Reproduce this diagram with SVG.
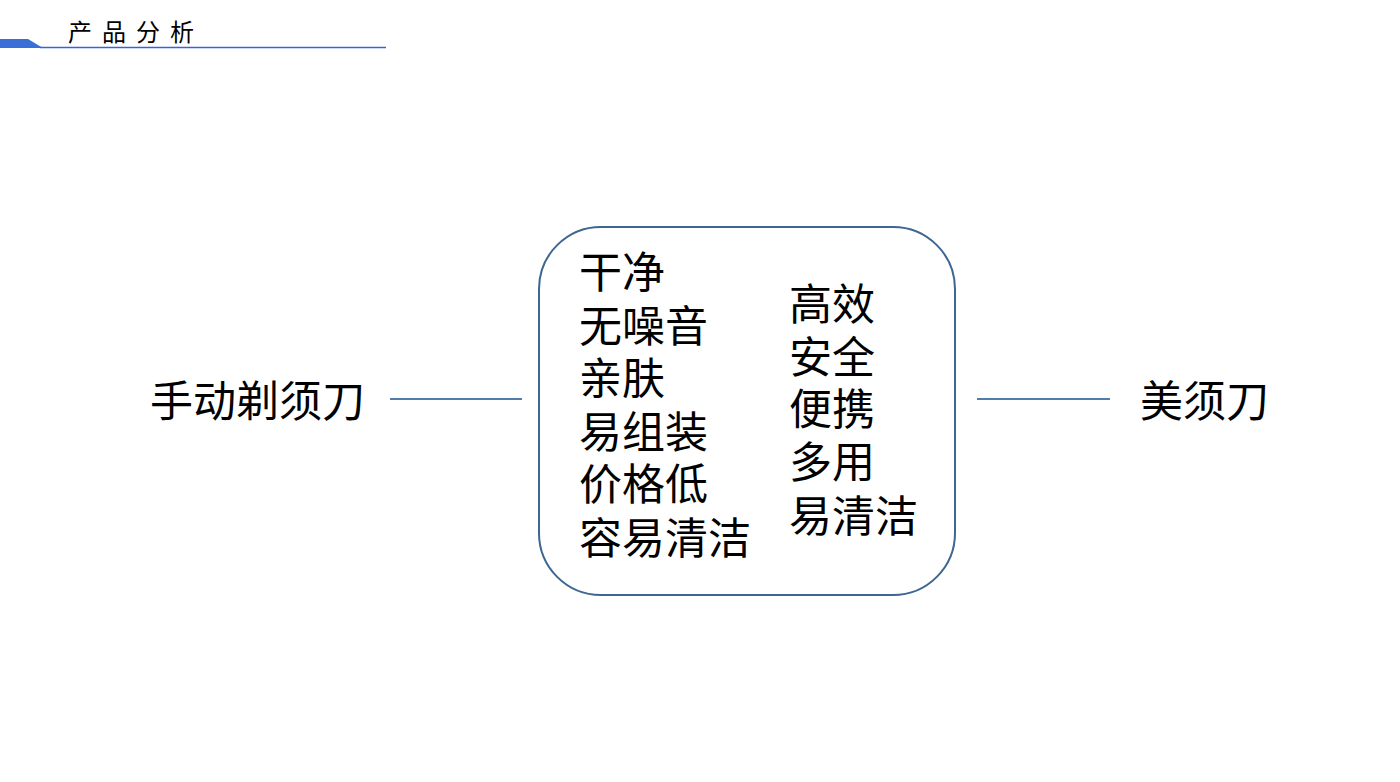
<svg xmlns="http://www.w3.org/2000/svg" width="1400" height="782" viewBox="0 0 1400 782">
<style>
text{font-family:"Noto Sans CJK SC","Noto Sans CJK JP",sans-serif;fill:#000;}
.big{font-size:43px;dominant-baseline:central;}
.conn{stroke:#4f7fa8;stroke-width:1.8;fill:none;}
</style>
<rect width="1400" height="782" fill="#fff"/>
<g id="header">
<polygon points="0,39 28,39 43,48 0,48" fill="#3b6fd8"/>
<line x1="40" y1="47.5" x2="386" y2="47.5" stroke="#3b5fe0" stroke-width="1.6"/>
<text x="68" y="41" font-size="24" letter-spacing="10">产品分析</text>
</g>
<g id="connectors">
<line class="conn" x1="390" y1="399" x2="522" y2="399"/>
<line class="conn" x1="977" y1="399" x2="1110" y2="399"/>
</g>
<g id="left-node">
<text class="big" x="150" y="398">手动剃须刀</text>
</g>
<g id="center-node">
<rect x="539" y="227" width="416" height="368" rx="62" ry="62" fill="#fff" stroke="#3d6690" stroke-width="2"/>
<text class="big" x="579" y="269">干净</text>
<text class="big" x="579" y="323">无噪音</text>
<text class="big" x="579" y="375">亲肤</text>
<text class="big" x="579" y="429">易组装</text>
<text class="big" x="579" y="481">价格低</text>
<text class="big" x="579" y="535">容易清洁</text>
<text class="big" x="789" y="301">高效</text>
<text class="big" x="789" y="354">安全</text>
<text class="big" x="789" y="406">便携</text>
<text class="big" x="789" y="459">多用</text>
<text class="big" x="789" y="513">易清洁</text>
</g>
<g id="right-node">
<text class="big" x="1140" y="398">美须刀</text>
</g>
</svg>
